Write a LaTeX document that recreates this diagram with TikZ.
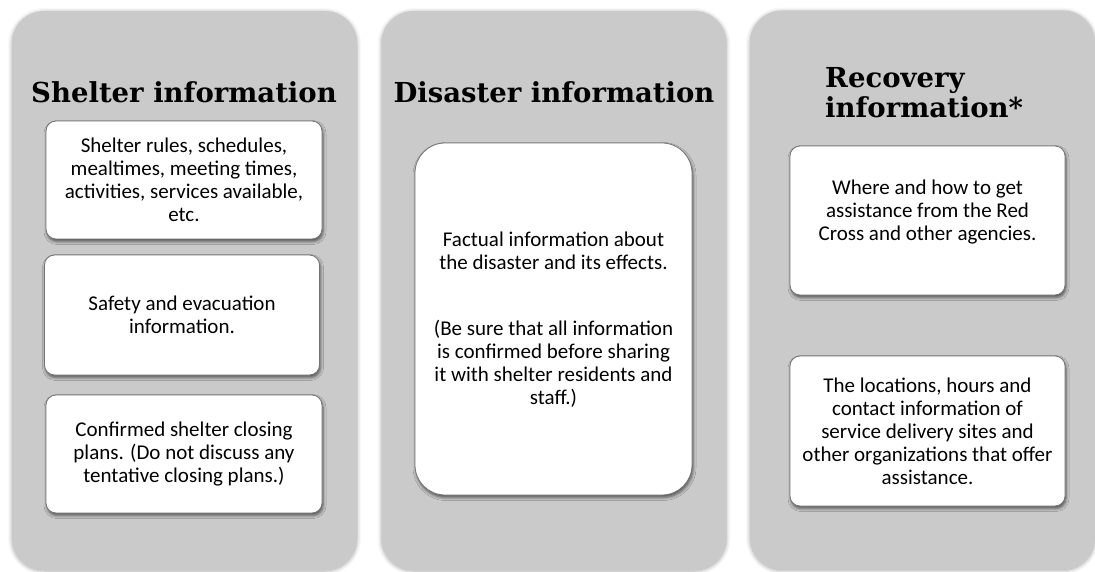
\documentclass[tikz,border=0pt]{standalone}
\usepackage{fontspec}
\setmainfont{Carlito}
\newfontfamily\headfont{DejaVu Serif}
\usetikzlibrary{shadows.blur}

\definecolor{panelgray}{RGB}{202,202,202}
\definecolor{boxline}{RGB}{115,115,115}

\tikzset{
  panel/.style={fill=panelgray, draw=none, rounded corners=32pt,
    minimum width=345pt, minimum height=559pt, inner sep=0pt,
    blur shadow={shadow xshift=0pt, shadow yshift=-1pt,
      shadow blur radius=4pt, shadow opacity=35}},
  infobox/.style={fill=white, draw=boxline, line width=0.8pt,
    rounded corners=10pt, inner sep=0pt, align=center,
    font=\fontsize{21}{23}\selectfont,
    blur shadow={shadow xshift=1pt, shadow yshift=-2.5pt,
      shadow blur radius=3pt, shadow opacity=60}},
  bodytext/.style={align=center, inner sep=0pt,
    font=\fontsize{21}{23}\selectfont},
  heading/.style={anchor=base, inner sep=0pt,
    font=\headfont\bfseries\fontsize{27.5}{30}\selectfont}
}

\begin{document}
\begin{tikzpicture}[x=1pt,y=-1pt]
\useasboundingbox (0,0) rectangle (1095,572);

% three grey columns
\node[panel] (p1) at (184.5,290.5) {};
\node[panel] (p2) at (554,290.5) {};
\node[panel] (p3) at (922.5,290) {};

% column headings
\node[heading] (h1) at (184,103) {Shelter information};
\node[heading] (h2) at (554,103) {Disaster information};
\node[heading, anchor=base west] (h3a) at (825,88) {Recovery};
\node[heading, anchor=base west] (h3b) at (825,118) {information*};

% shelter information
\node[infobox, minimum width=276pt, minimum height=118pt] (s1) at (184,180)
  {Shelter rules, schedules,\\mealtimes, meeting times,\\activities, services available,\\etc.};
\node[infobox, minimum width=275pt, minimum height=120pt] (s2) at (182,315)
  {Safety and evacuation\\information.};
\node[infobox, minimum width=276pt, minimum height=118pt] (s3) at (184,454)
  {Confirmed shelter closing\\plans. (Do not discuss any\\tentative closing plans.)};

% disaster information
\node[infobox, rounded corners=30pt, minimum width=277pt, minimum height=352pt] (d1) at (553.5,319) {};
\node[bodytext] (d1t) at (553.5,320)
  {Factual information about\\the disaster and its effects.\\[43pt]
   (Be sure that all information\\is confirmed before sharing\\it with shelter residents and\\staff.)};

% recovery information
\node[infobox, minimum width=275pt, minimum height=149pt] (r1) at (927.5,220.5) {};
\node[bodytext] (r1t) at (927.5,212)
  {Where and how to get\\assistance from the Red\\Cross and other agencies.};
\node[infobox, minimum width=275pt, minimum height=150pt] (r2) at (927.5,431)
  {The locations, hours and\\contact information of\\service delivery sites and\\other organizations that offer\\assistance.};
\end{tikzpicture}
\end{document}
